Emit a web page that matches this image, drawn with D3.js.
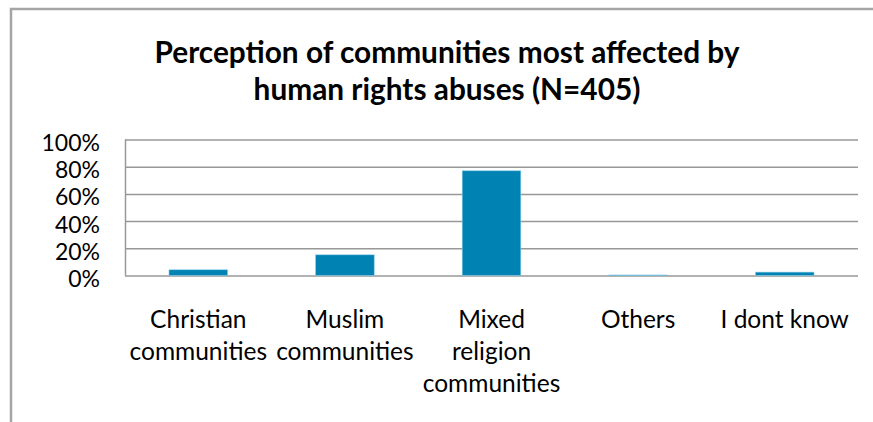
<!DOCTYPE html>
<html>
<head>
<meta charset="utf-8">
<script src="https://cdn.jsdelivr.net/npm/d3@7"></script>
<style>
  html, body { margin: 0; padding: 0; background: #fff; overflow: hidden; }
  text { font-family: Lato, "Liberation Sans", sans-serif; fill: #000; }
</style>
</head>
<body>
<div id="d3"></div>
<script>
const categories = [
  ['Christian', 'communities'],
  ['Muslim', 'communities'],
  ['Mixed', 'religion', 'communities'],
  ['Others'],
  ['I dont know'],
];
const values = [0.042, 0.152, 0.770, 0.004, 0.025];
const yTicks = [0, 0.2, 0.4, 0.6, 0.8, 1.0];
const titleLines = [
  'Perception of communities most affected by',
  'human rights abuses (N=405)',
];

function init() {
  const width = 873;
  const height = 422;
  const marginTop = 139.5;
  const marginBottom = height - 275.5;
  const marginLeft = 125;
  const marginRight = width - 858;

  const svg = d3
    .select('#d3')
    .append('svg')
    .attr('width', width)
    .attr('height', height)
    .style('display', 'block');

  // chart frame: only the top and left edges fall inside the window
  svg.append('path')
    .attr('d', `M11,${height + 10}V9H${width + 10}`)
    .attr('fill', 'none')
    .attr('stroke', '#a5a5a5')
    .attr('stroke-width', 2.5);

  svg.append('text')
    .attr('text-anchor', 'middle')
    .attr('font-weight', 'bold')
    .attr('font-size', 29.8)
    .selectAll('tspan')
    .data(titleLines)
    .join('tspan')
      .attr('x', 447)
      .attr('y', (d, i) => 63 + i * 37)
      .text(d => d);

  const x = d3.scaleBand()
    .domain(d3.range(categories.length))
    .range([marginLeft, width - marginRight])
    .paddingInner(0.6)
    .paddingOuter(0.3);

  const y = d3.scaleLinear()
    .domain([0, 1])
    .range([height - marginBottom, marginTop]);

  // gridlines + y labels
  const yAxis = svg.append('g')
    .attr('transform', `translate(${marginLeft},0)`)
    .call(d3.axisLeft(y)
      .tickValues(yTicks)
      .tickFormat(d3.format('.0%'))
      .tickSize(-(width - marginLeft - marginRight))
      .tickPadding(25));

  yAxis.select('.domain')
    .attr('stroke', '#989898')
    .attr('stroke-width', 1.5)
    .attr('d', `M0.5,${y(1)}V${y(0)}`);

  yAxis.selectAll('.tick line')
    .attr('stroke', '#989898')
    .attr('stroke-width', 1.5);

  yAxis.selectAll('.tick text')
    .attr('font-family', 'Lato, "Liberation Sans", sans-serif')
    .attr('font-size', 23)
    .attr('fill', '#000')
    .attr('dy', 11);

  svg.append('g')
    .selectAll('rect')
    .data(values)
    .join('rect')
      .attr('x', (d, i) => x(i))
      .attr('y', d => y(d))
      .attr('width', x.bandwidth())
      .attr('height', d => y(0) - y(d))
      .attr('fill', '#0082b3')
      .attr('stroke', '#8fd0ea')
      .attr('stroke-width', 0.6);

  // category labels, one tspan per line
  svg.append('g')
    .selectAll('text')
    .data(categories)
    .join('text')
      .attr('text-anchor', 'middle')
      .attr('font-size', 24.5)
    .selectAll('tspan')
    .data((d, i) => d.map(line => ({line, i})))
    .join('tspan')
      .attr('x', d => x(d.i) + x.bandwidth() / 2)
      .attr('y', (d, j) => 328 + j * 32)
      .text(d => d.line);
}

init();
</script>
</body>
</html>
